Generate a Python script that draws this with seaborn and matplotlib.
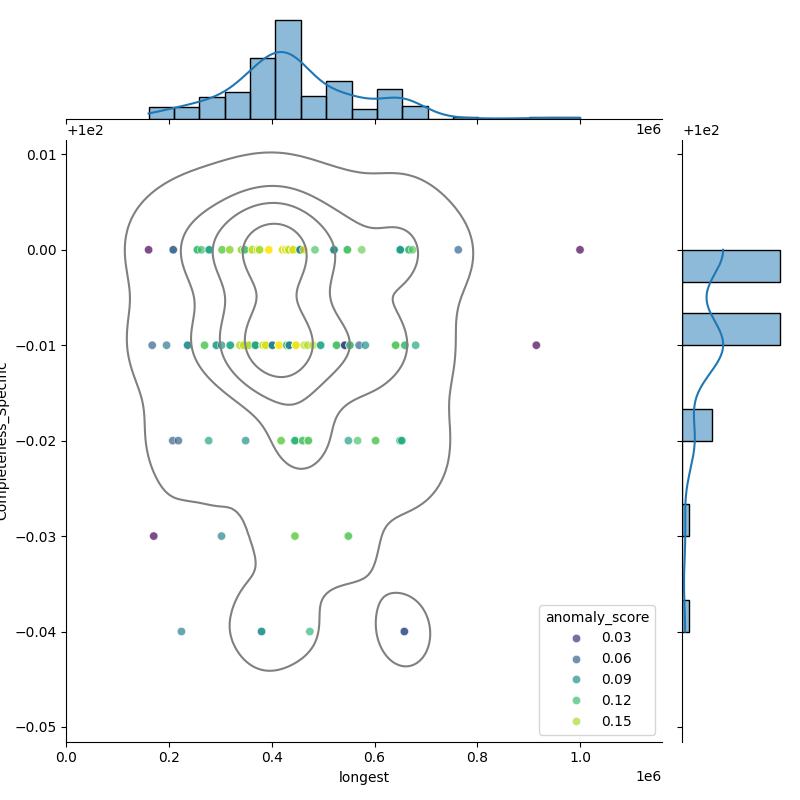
import matplotlib
matplotlib.use("Agg")
import matplotlib.pyplot as plt
import pandas as pd
import seaborn as sns

# Completeness_Specific only takes a handful of values just under 100
completeness_levels = [100.00, 99.99, 99.98, 99.97, 99.96]

# one set of lists per completeness level: longest, anomaly score, copies
row0_longest = [160000, 208000, 255000, 263000, 278000, 303000, 318000, 341000,
                347000, 362000, 372000, 376000, 394000, 421000, 427000, 433000,
                441000, 455000, 462000, 484000, 521000, 547000, 575000, 650000,
                667000, 674000, 763000, 1000000]
row0_score = [0.010, 0.060, 0.120, 0.120, 0.105, 0.135, 0.145, 0.145,
              0.125, 0.155, 0.155, 0.150, 0.170, 0.160, 0.165, 0.155,
              0.160, 0.080, 0.160, 0.125, 0.090, 0.125, 0.135, 0.100,
              0.115, 0.130, 0.060, 0.010]
row0_count = [1, 2, 3, 1, 3, 2, 2, 2, 3, 4, 5, 5, 4, 6, 6, 5,
              5, 4, 1, 1, 5, 4, 1, 7, 2, 1, 1, 1]

row1_longest = [167000, 195000, 236000, 269000, 292000, 302000, 319000, 338000,
                345000, 355000, 368000, 383000, 388000, 401000, 414000, 429000,
                434000, 447000, 463000, 470000, 480000, 495000, 526000, 542000,
                552000, 570000, 582000, 641000, 659000, 680000, 915000]
row1_score = [0.060, 0.075, 0.085, 0.130, 0.100, 0.090, 0.105, 0.155,
              0.155, 0.150, 0.105, 0.155, 0.160, 0.080, 0.170, 0.125,
              0.085, 0.165, 0.155, 0.150, 0.155, 0.105, 0.125, 0.045,
              0.120, 0.060, 0.090, 0.130, 0.120, 0.105, 0.010]
row1_count = [1, 1, 2, 2, 2, 1, 2, 2, 2, 2, 4, 5, 5, 3, 7, 8,
              4, 7, 1, 1, 1, 2, 4, 4, 3, 1, 1, 5, 2, 1, 1]

row2_longest = [207000, 218000, 277000, 349000, 418000, 445000, 460000,
                471000, 549000, 567000, 602000, 650000, 653000]
row2_score = [0.060, 0.060, 0.105, 0.090, 0.135, 0.115, 0.125,
              0.130, 0.100, 0.125, 0.130, 0.095, 0.110]
row2_count = [1, 1, 1, 1, 2, 4, 2, 4, 1, 1, 2, 4, 2]

row3_longest = [170000, 302000, 445000, 549000]
row3_score = [0.010, 0.080, 0.135, 0.130]
row3_count = [1, 1, 2, 2]

row4_longest = [224000, 380000, 474000, 658000]
row4_score = [0.080, 0.090, 0.115, 0.050]
row4_count = [1, 2, 1, 2]


def build_frame():
    rows = [
        (row0_longest, row0_score, row0_count),
        (row1_longest, row1_score, row1_count),
        (row2_longest, row2_score, row2_count),
        (row3_longest, row3_score, row3_count),
        (row4_longest, row4_score, row4_count),
    ]
    parts = []
    for level, (xs, scores, counts) in zip(completeness_levels, rows):
        part = pd.DataFrame({
            "longest": xs,
            "Completeness_Specific": level,
            "anomaly_score": scores,
        })
        parts.append(part.loc[part.index.repeat(counts)])
    return pd.concat(parts, ignore_index=True)


def main():
    df = build_frame()

    g = sns.JointGrid(data=df, x="longest", y="Completeness_Specific", height=8)
    sns.scatterplot(data=df, x="longest", y="Completeness_Specific",
                    hue="anomaly_score", palette="viridis", alpha=0.7,
                    ax=g.ax_joint)
    sns.kdeplot(data=df, x="longest", y="Completeness_Specific",
                color="gray", levels=5, ax=g.ax_joint)

    sns.histplot(data=df, x="longest", bins=17, kde=True, ax=g.ax_marg_x)
    sns.histplot(data=df, y="Completeness_Specific", bins=12, kde=True,
                 ax=g.ax_marg_y)

    # kde support ends right at zero on the left
    g.ax_joint.set_xlim(left=0)
    sns.move_legend(g.ax_joint, "lower right")

    g.figure.savefig("out.png", dpi=100)


if __name__ == "__main__":
    main()
